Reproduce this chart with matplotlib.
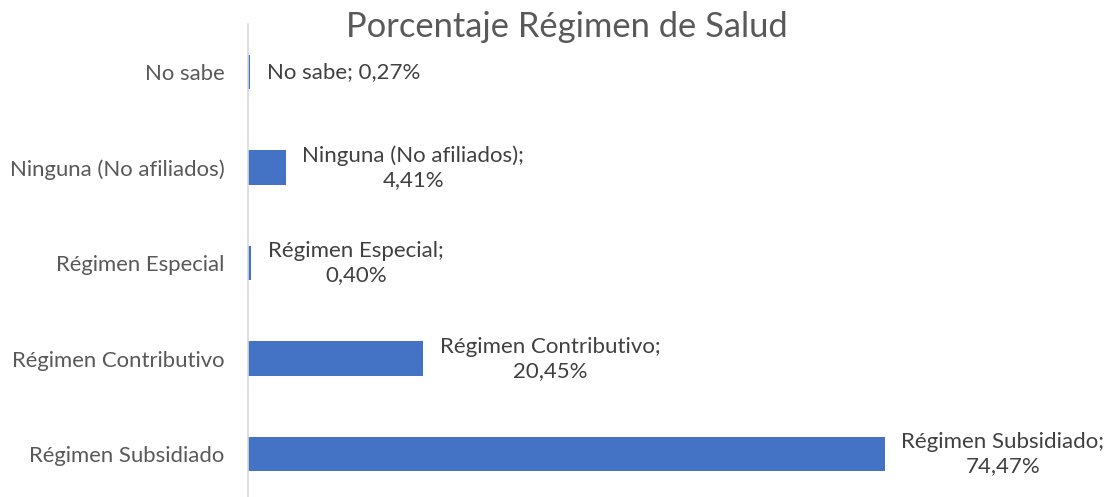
import matplotlib
matplotlib.use("Agg")
import matplotlib.pyplot as plt

categorias = ["Régimen Subsidiado", "Régimen Contributivo", "Régimen Especial",
              "Ninguna (No afiliados)", "No sabe"]
porcentajes = [74.47, 20.45, 0.40, 4.41, 0.27]

plt.rcParams['font.family'] = ['Lato', 'DejaVu Sans']

fig = plt.figure(figsize=(11.09, 4.97), dpi=100)
ax = fig.add_axes([248/1109, -5/497, 855/1109, 478/497])

pos = list(range(len(categorias)))
ax.barh(pos, porcentajes, height=0.36, color="#4472C4")
ax.set_ylim(-0.5, 4.5)
ax.set_xlim(0, 100)

ax.set_yticks(pos)
ax.set_yticklabels(categorias, fontsize=15.9, color="#595959")
ax.tick_params(axis='y', length=0, pad=17)
ax.set_xticks([])
for s in ["top", "right", "bottom"]:
    ax.spines[s].set_visible(False)
ax.spines["left"].set_color("#d9d9d9")
ax.spines["left"].set_linewidth(1.2)

for p, cat, v in zip(pos, categorias, porcentajes):
    txt = f"{cat};" + (" " if len(cat) < 10 else "\n") + f"{v:.2f}".replace(".", ",") + "%"
    ax.annotate(txt, (v, p), xytext=(12, 0), textcoords="offset points",
                ha="left", va="center", multialignment="center",
                fontsize=16, color="#404040", linespacing=1.25)

fig.text(567/1109, 1 - 27/497, "Porcentaje Régimen de Salud", ha="center",
         va="center", fontsize=24.8, color="#595959")

fig.savefig("out.png", dpi=100)
